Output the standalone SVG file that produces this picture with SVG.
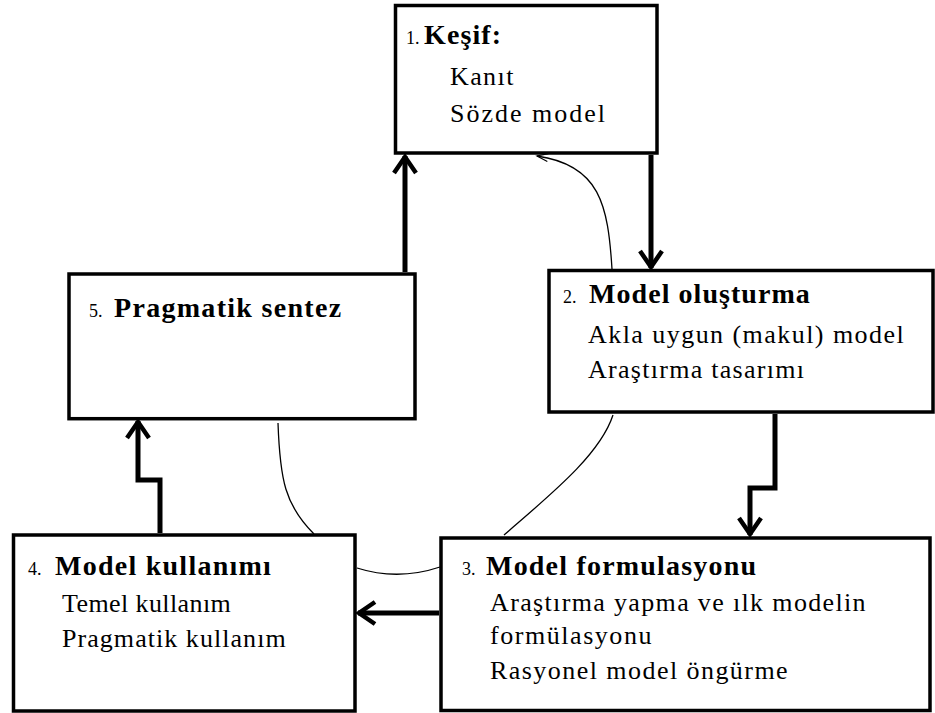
<svg xmlns="http://www.w3.org/2000/svg" width="935" height="713" viewBox="0 0 935 713">
<style>
.box{fill:#fff;stroke:#000;stroke-width:3.5}
.thick{fill:none;stroke:#000;stroke-width:5;stroke-linejoin:miter}
.thin{fill:none;stroke:#000;stroke-width:1.3}
</style>
<defs>
<marker id="ah" markerUnits="userSpaceOnUse" viewBox="-22 -16 26 32" markerWidth="26" markerHeight="32" refX="0" refY="0" orient="auto">
<path d="M-17,-11 L-1,0 L-17,11" fill="none" stroke="#000" stroke-width="4.5"/>
</marker>
<marker id="ahs" markerUnits="userSpaceOnUse" viewBox="-14 -8 16 16" markerWidth="16" markerHeight="16" refX="0" refY="0" orient="auto">
<path d="M-11,-4 L0,0 L-11,4" fill="none" stroke="#000" stroke-width="1.2"/>
</marker>
</defs>
<g id="connectors">
<path class="thick" d="M405,272 L405,156" marker-end="url(#ah)"/>
<path class="thick" d="M651,155 L651,268" marker-end="url(#ah)"/>
<path class="thick" d="M775,414 L775,488 L750,488 L750,535" marker-end="url(#ah)"/>
<path class="thick" d="M439,613 L358,613" marker-end="url(#ah)"/>
<path class="thick" d="M160,533 L160,480 L138,480 L138,421" marker-end="url(#ah)"/>
<path class="thin" d="M612,269 C608,205 600,165 537,156" marker-end="url(#ahs)"/>
<path class="thin" d="M613,415 C600,455 550,495 504,535"/>
<path class="thin" d="M278,423 C280,480 285,505 314,534"/>
<path class="thin" d="M357,568 Q398,581 440,567"/>
</g>
<g id="node1">
<rect class="box" x="395.5" y="5.5" width="261.5" height="147.5"/>
<text font-family="Liberation Serif" font-size="18" x="406" y="44">1.</text>
<text font-family="Liberation Serif" font-size="28" font-weight="bold" letter-spacing="1.1" x="424" y="44">Keşif:</text>
<text font-family="Liberation Serif" font-size="26" letter-spacing="1.4" x="450" y="85">Kanıt</text>
<text font-family="Liberation Serif" font-size="26" letter-spacing="2" x="450" y="122">Sözde model</text>
</g>
<g id="node2">
<rect class="box" x="549" y="270.5" width="384" height="141.5"/>
<text font-family="Liberation Serif" font-size="18" x="563" y="303">2.</text>
<text font-family="Liberation Serif" font-size="28" font-weight="bold" letter-spacing="1.05" x="589" y="303">Model oluşturma</text>
<text font-family="Liberation Serif" font-size="26" letter-spacing="1.45" x="588" y="343">Akla uygun (makul) model</text>
<text font-family="Liberation Serif" font-size="26" letter-spacing="1.28" x="588" y="378">Araştırma tasarımı</text>
</g>
<g id="node3">
<rect class="box" x="441" y="538" width="489" height="172.5"/>
<text font-family="Liberation Serif" font-size="18" x="462" y="575">3.</text>
<text font-family="Liberation Serif" font-size="28" font-weight="bold" letter-spacing="1.2" x="486" y="575">Model formulasyonu</text>
<text font-family="Liberation Serif" font-size="26" letter-spacing="1.35" x="490" y="611">Araştırma yapma ve ılk modelin</text>
<text font-family="Liberation Serif" font-size="26" letter-spacing="1.55" x="490" y="644">formülasyonu</text>
<text font-family="Liberation Serif" font-size="26" letter-spacing="1.45" x="490" y="679">Rasyonel model öngürme</text>
</g>
<g id="node4">
<rect class="box" x="13.5" y="535" width="341.5" height="176"/>
<text font-family="Liberation Serif" font-size="18" x="28" y="575">4.</text>
<text font-family="Liberation Serif" font-size="28" font-weight="bold" letter-spacing="1.25" x="55" y="575">Model kullanımı</text>
<text font-family="Liberation Serif" font-size="26" letter-spacing="0.4" x="62" y="612">Temel kullanım</text>
<text font-family="Liberation Serif" font-size="26" letter-spacing="1.05" x="62" y="647">Pragmatik kullanım</text>
</g>
<g id="node5">
<rect class="box" x="69" y="274" width="346" height="144.7"/>
<text font-family="Liberation Serif" font-size="18" x="89" y="317">5.</text>
<text font-family="Liberation Serif" font-size="28" font-weight="bold" letter-spacing="1.3" x="114" y="317">Pragmatik sentez</text>
</g>
</svg>
